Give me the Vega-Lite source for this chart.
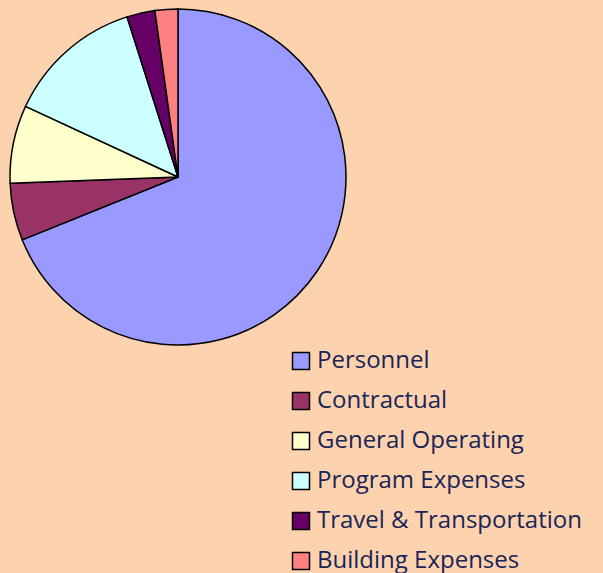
{
  "$schema": "https://vega.github.io/schema/vega-lite/v6.json",
  "width": 356,
  "height": 354,
  "autosize": "none",
  "padding": {"left": 0, "top": 0, "right": 247, "bottom": 219},
  "background": "#fcd3ae",
  "data": {
    "values": [
      {"category": "Personnel", "share": 68.9, "idx": 1},
      {"category": "Contractual", "share": 5.5, "idx": 2},
      {"category": "General Operating", "share": 7.5, "idx": 3},
      {"category": "Program Expenses", "share": 13.2, "idx": 4},
      {"category": "Travel & Transportation", "share": 2.7, "idx": 5},
      {"category": "Building Expenses", "share": 2.2, "idx": 6}
    ]
  },
  "mark": {"type": "arc", "radius": 168, "stroke": "#000000", "strokeWidth": 1.5},
  "encoding": {
    "theta": {"field": "share", "type": "quantitative", "stack": true},
    "order": {"field": "idx", "type": "quantitative"},
    "color": {
      "field": "category",
      "type": "nominal",
      "scale": {
        "domain": ["Personnel", "Contractual", "General Operating", "Program Expenses", "Travel & Transportation", "Building Expenses"],
        "range": ["#9999ff", "#993366", "#ffffcc", "#ccffff", "#660066", "#ff8080"]
      },
      "legend": {
        "orient": "none",
        "legendX": 289,
        "legendY": 349,
        "title": null,
        "symbolType": "square",
        "symbolSize": 289,
        "symbolStrokeColor": "#000000",
        "symbolStrokeWidth": 1.5,
        "symbolOpacity": 1,
        "labelFont": "Open Sans",
        "labelFontSize": 24,
        "labelColor": "#1b2456",
        "labelOffset": 4,
        "labelLimit": 400,
        "rowPadding": 16
      }
    }
  },
  "config": {"view": {"stroke": null}}
}
